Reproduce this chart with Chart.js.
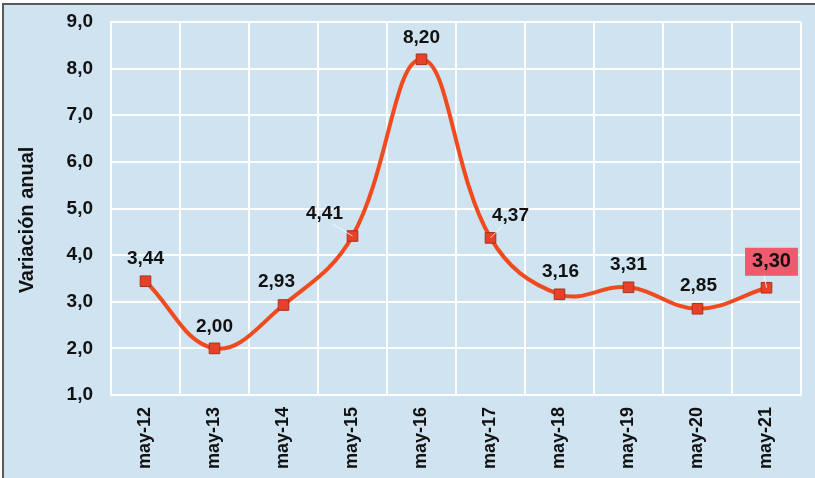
<!DOCTYPE html>
<html>
<head>
<meta charset="utf-8">
<script src="https://cdn.jsdelivr.net/npm/chart.js@4/dist/chart.umd.min.js"></script>
<style>
  html, body { margin: 0; padding: 0; background: #fff; }
  #wrap { position: absolute; left: 0; top: 0; width: 815px; height: 478px; }
</style>
</head>
<body>
<div id="wrap"><canvas id="chart" width="815" height="478"></canvas></div>
<script>
// data
var periodos   = ["may-12", "may-13", "may-14", "may-15", "may-16", "may-17", "may-18", "may-19", "may-20", "may-21"];
var variacion  = [3.44, 2.00, 2.93, 4.41, 8.20, 4.37, 3.16, 3.31, 2.85, 3.30];
var yMin = 1, yMax = 9, yPaso = 1;
var tituloY = "Variación anual";

// where each value label sits relative to its point (px)
var labelDx = [0, 0, -7, -28, 0, 20, 1, 0, 1, 5];
var labelDy = [-22, -22, -23, -22, -22, -22, -23, -23, -23, -26];
var conGuia = [false, false, false, true, false, true, false, false, false, true];

var fuente = "'Liberation Sans', Arial, sans-serif";

var fmt = function(v, d){
    return v.toFixed(d).replace(".", ",");
};

var fondo = {
    id: "fondo",
    beforeDraw: function(chart){
        var c = chart.ctx;
        c.save();
        c.fillStyle = "#ffffff";
        c.fillRect(0, 0, chart.width, chart.height);
        c.fillStyle = "#cfe3f0";
        c.fillRect(3, 4, chart.width - 3, chart.height - 4);
        c.strokeStyle = "#5a5a5a";
        c.lineWidth = 2;
        c.beginPath();
        c.moveTo(3, chart.height);
        c.lineTo(3, 4);
        c.lineTo(chart.width, 4);
        c.stroke();
        // y axis title
        c.translate(27, 220);
        c.rotate(-Math.PI / 2);
        c.fillStyle = "#111";
        c.font = "bold 20px " + fuente;
        c.textAlign = "center";
        c.textBaseline = "middle";
        c.fillText(tituloY, 0, 0);
        c.restore();
    }
};

var etiquetas = {
    id: "etiquetas",
    afterDatasetsDraw: function(chart){
        var c = chart.ctx,
            meta = chart.getDatasetMeta(0),
            ultimo = variacion.length - 1;
        c.save();
        c.textAlign = "center";
        c.textBaseline = "middle";
        meta.data.forEach(function(pt, i){
            var x = pt.x + labelDx[i],
                y = pt.y + labelDy[i],
                txt = fmt(variacion[i], 2);
            c.font = "bold " + (i == ultimo ? 20 : 19) + "px " + fuente;
            if(conGuia[i]){
                c.strokeStyle = "rgba(255,255,255,0.8)";
                c.lineWidth = 1;
                c.beginPath();
                c.moveTo(x + (labelDx[i] < 0 ? 8 : -8), y + 10);
                c.lineTo(pt.x, pt.y);
                c.stroke();
            }
            if(i == ultimo){
                var w = c.measureText(txt).width + 14;
                c.fillStyle = "#ee5a6e";
                c.fillRect(x - w / 2, y - 14, w, 28);
            }
            c.fillStyle = "#111";
            c.fillText(txt, x, y);
        });
        c.restore();
    }
};

var ctx = document.getElementById("chart");

var graph = new Chart(ctx, {
    type: "line",
    data: {
        labels: periodos,
        datasets: [{
            data: variacion,
            borderColor: "#f04b1f",
            borderWidth: 4,
            tension: 0.4,
            pointStyle: "rect",
            pointRadius: 7.5,
            pointBackgroundColor: "#e8412a",
            pointBorderColor: "#a8301d",
            pointBorderWidth: 1
        }]
    },
    options: {
        responsive: false,
        animation: false,
        layout: { padding: { left: 0, top: 22, right: 14, bottom: 0 } },
        plugins: {
            legend: { display: false },
            tooltip: { enabled: false }
        },
        scales: {
            x: {
                offset: true,
                grid: { offset: true, color: "#ffffff", lineWidth: 2, drawTicks: false },
                border: { color: "#ffffff", width: 2 },
                ticks: {
                    color: "#111",
                    font: { family: fuente, size: 18, weight: "bold" },
                    minRotation: 90,
                    maxRotation: 90,
                    padding: 12
                },
                afterFit: function(scale){
                    scale.height = 83;
                    scale.paddingLeft = 0;
                    scale.paddingRight = 0;
                }
            },
            y: {
                min: yMin,
                max: yMax,
                grid: { color: "#ffffff", lineWidth: 2, drawTicks: false },
                border: { color: "#ffffff", width: 2 },
                ticks: {
                    stepSize: yPaso,
                    color: "#111",
                    font: { family: fuente, size: 19, weight: "bold" },
                    padding: 18,
                    callback: function(v){ return fmt(v, 1); }
                },
                afterFit: function(scale){
                    scale.width = 111;
                    scale.paddingTop = 0;
                    scale.paddingBottom = 0;
                }
            }
        }
    },
    plugins: [fondo, etiquetas]
});
</script>
</body>
</html>
